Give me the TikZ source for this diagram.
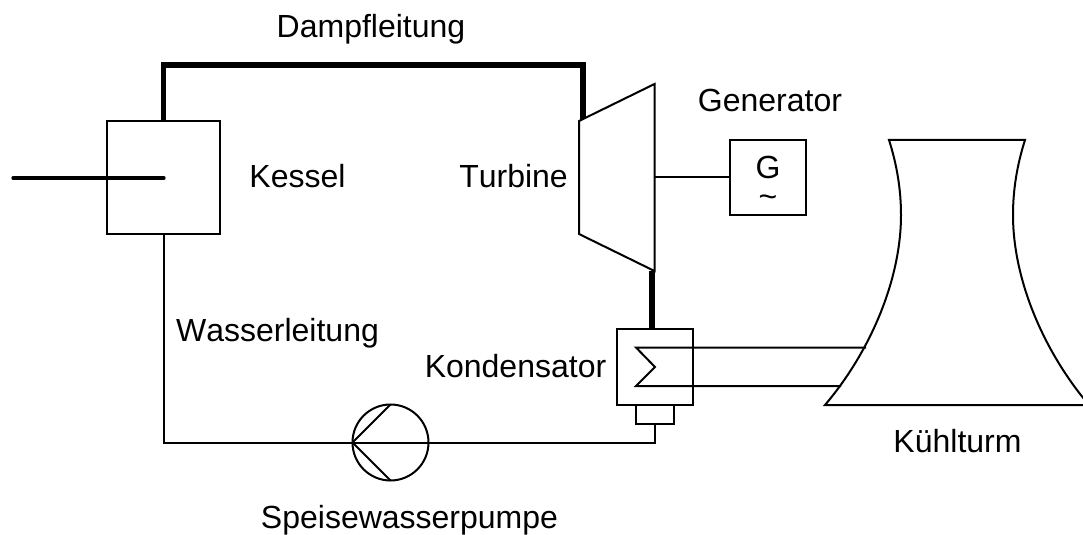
\documentclass[tikz,border=0pt]{standalone}
\usepackage{fontspec}
\setmainfont[Kerning=Off]{Liberation Sans}
\tikzset{
  thinline/.style={line width=1.5pt,line join=miter},
  heatline/.style={line width=2.5pt,line cap=round},
  pipe/.style={line width=4.2pt,line join=miter},
  boxnode/.style={draw,line width=1.5pt,inner sep=0pt,outer sep=0pt,fill=none},
  lbl/.style={anchor=base,inner sep=0pt,font=\fontsize{24}{28}\selectfont}
}
\begin{document}
\begin{tikzpicture}[x=0.75pt,y=-0.75pt]
\useasboundingbox (0,0) rectangle (1083,535);
% named equipment
\node[boxnode,minimum width=84.75pt,minimum height=84.75pt] (kessel) at (163.5,177.5) {};
\node[boxnode,minimum width=57pt,minimum height=56.25pt] (gen) at (768,177.5) {};
\node[boxnode,minimum width=57pt,minimum height=57pt] (cond) at (655,366.5) {};
\node[boxnode,minimum width=28.5pt,minimum height=14.25pt] (trap) at (655,414.5) {};
\node[boxnode,circle,minimum size=57pt] (pump) at (390.5,442.5) {};
\coordinate (heatstart) at (13,178);
\coordinate (heatend) at (164,178);
\coordinate (turbin) at (583,120);
\coordinate (turbout) at (652,271);
\coordinate (shaft) at (654,177.5);
\coordinate (cwhi) at (866,347.5);
\coordinate (cwlo) at (841,386);
\coordinate (zzt) at (636,347.5);
\coordinate (zzm) at (655,367);
\coordinate (zzb) at (636,386);
% pipes
\draw[pipe] (kessel.north) -- (163.5,65) -- (583,65) -- (turbin);
\draw[pipe] (turbout) -- (turbout |- cond.north);
\draw[heatline] (heatstart) -- (heatend);
% turbine
\draw[thinline,fill=white] (579,121) -- (654.5,84) -- (654.5,271) -- (579,234) -- cycle;
\draw[thinline] (shaft) -- (gen.west);
% condenser
\draw[thinline] (cwhi) -- (zzt) -- (zzm) -- (zzb) -- (cwlo);
% water line
\draw[thinline] (kessel.south) |- (pump.west);
\draw[thinline] (pump.west) -- (pump.east);
\draw[thinline] (pump.east) -| (trap.south);
\draw[thinline] (pump.west) -- (pump.north);
\draw[thinline] (pump.west) -- (pump.south);
% cooling tower
\begin{scope}
\clip (0,0) rectangle (1083,535);
\draw[thinline] (825,405) .. controls (870,352) and (901,280) .. (901,215)
  .. controls (901,190) and (897,165) .. (889,140) -- (1025,140)
  .. controls (1017,165) and (1013,190) .. (1013,215)
  .. controls (1013,280) and (1044,352) .. (1089,405) -- cycle;
\end{scope}
% labels
\node[lbl] (t1) at (371,38) {Dampfleitung};
\node[lbl] (t2) at (770,112) {Generator};
\node[lbl] (t3) at (297.5,188) {Kessel};
\node[lbl] (t4) at (513.5,188) {Turbine};
\node[lbl] (t5) at (277.5,341) {Wasserleitung};
\node[lbl] (t6) at (515.5,377) {Kondensator};
\node[lbl] (t7) at (957.5,452) {Kühlturm};
\node[lbl] (t8) at (409.5,528) {Speisewasserpumpe};
\node[lbl,align=center,font=\fontsize{24}{21}\selectfont] (t9) at (768,207) {G\\\char`\~};
\end{tikzpicture}
\end{document}
